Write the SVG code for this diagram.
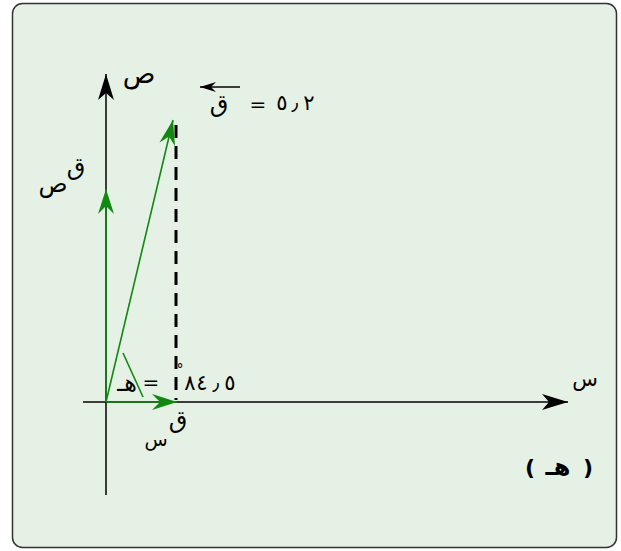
<svg xmlns="http://www.w3.org/2000/svg" width="621" height="551" viewBox="0 0 621 551">
<style>
.t{font-family:"DejaVu Sans",sans-serif;font-size:20px;fill:#000}
.a{font-size:24px}
.d{font-size:21px}
.ax{stroke:#000;stroke-width:1.5;fill:none}
.g{stroke:#118811;stroke-width:1.6;fill:none}
</style>
<defs>
<marker id="ah" markerUnits="userSpaceOnUse" viewBox="-27 -9 28 18" markerWidth="28" markerHeight="18" refX="0" refY="0" orient="auto">
<path d="M0,0 L-26,-8 L-19,0 L-26,8 Z" fill="#000"/>
</marker>
<marker id="ag" markerUnits="userSpaceOnUse" viewBox="-27 -9 28 18" markerWidth="28" markerHeight="18" refX="0" refY="0" orient="auto">
<path d="M0,0 L-25,-8 L-17,0 L-25,8 Z" fill="#118811"/>
</marker>
<marker id="av" markerUnits="userSpaceOnUse" viewBox="-17 -6 18 12" markerWidth="18" markerHeight="12" refX="0" refY="0" orient="auto">
<path d="M0,0 L-16,-5 L-11,0 L-16,5 Z" fill="#000"/>
</marker>
</defs>
<rect x="12.5" y="3.5" width="604" height="544" rx="10" fill="#e6f1e6" stroke="#333" stroke-width="1.5"/>
<g id="connectors">
<line id="x-axis" class="ax" x1="83" y1="402" x2="568" y2="402" marker-end="url(#ah)"/>
<line id="y-axis" class="ax" x1="106" y1="495" x2="106" y2="74" marker-end="url(#ah)"/>
<line id="dash" x1="176" y1="125" x2="176" y2="400" stroke="#000" stroke-width="3" stroke-dasharray="13 8"/>
<line id="fy" class="g" x1="106" y1="402" x2="106" y2="189" marker-end="url(#ag)"/>
<line id="fx" class="g" x1="106" y1="402" x2="177" y2="402" marker-end="url(#ag)"/>
<line id="f" class="g" x1="106" y1="402" x2="173" y2="120" marker-end="url(#ag)"/>
<line id="angle" class="g" x1="123" y1="353" x2="143" y2="397"/>
<line id="vec" class="ax" x1="240" y1="87" x2="200" y2="87" marker-end="url(#av)"/>
</g>
<g id="label-y"><text class="t" x="139" y="83" text-anchor="middle" style="font-size:27px">ص</text></g>
<g id="label-x"><text class="t" x="585" y="386" text-anchor="middle" style="font-size:21px">س</text></g>
<g id="label-f">
<text class="t a" x="219" y="112" text-anchor="middle">ق</text>
<text class="t" x="258" y="111" text-anchor="middle">=</text>
<text class="t d" x="282" y="110" text-anchor="middle">٥</text>
<text class="t d" x="295" y="110" text-anchor="middle">٫</text>
<text class="t d" x="309" y="110" text-anchor="middle">٢</text>
</g>
<g id="label-fy">
<text class="t a" x="76" y="175" text-anchor="middle">ق</text>
<text class="t a" x="53" y="192" text-anchor="middle">ص</text>
</g>
<g id="label-fx">
<text class="t a" x="178" y="428" text-anchor="middle">ق</text>
<text class="t" x="156" y="446" text-anchor="middle" style="font-size:19px">س</text>
</g>
<g id="label-angle">
<text class="t a" x="127" y="391" text-anchor="middle">هـ</text>
<text class="t" x="151" y="389" text-anchor="middle">=</text>
<text class="t" x="180" y="374" text-anchor="middle" style="font-size:14px">°</text>
<text class="t d" x="190" y="390" text-anchor="middle">٨</text>
<text class="t d" x="202" y="390" text-anchor="middle">٤</text>
<text class="t d" x="216" y="390" text-anchor="middle">٫</text>
<text class="t d" x="230" y="390" text-anchor="middle">٥</text>
</g>
<g id="caption">
<text class="t" x="530" y="475" text-anchor="middle" style="font-size:22px;font-weight:bold">(</text>
<text class="t a" x="558" y="475" text-anchor="middle" style="font-weight:bold">هـ</text>
<text class="t" x="588" y="475" text-anchor="middle" style="font-size:22px;font-weight:bold">)</text>
</g>
</svg>
